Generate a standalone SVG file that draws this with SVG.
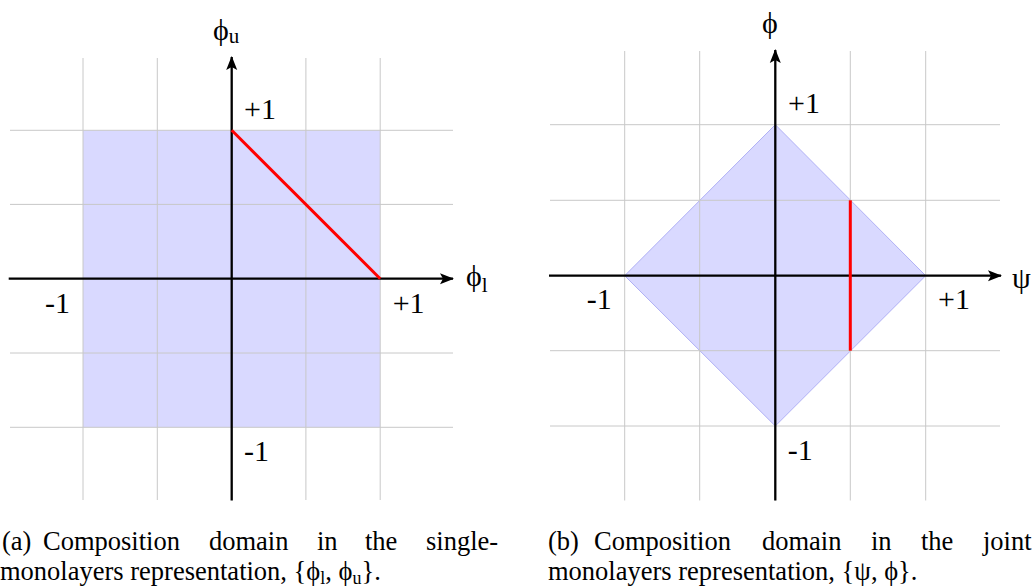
<svg xmlns="http://www.w3.org/2000/svg" width="1036" height="588" viewBox="0 0 1036 588">
<style>
.grid{stroke:#c8c8c8;stroke-width:1;fill:none}
.axis{stroke:#000;stroke-width:2.3;fill:none}
.dom{fill:#d9d9ff}
.red{stroke:#ff0000;stroke-width:3;fill:none}
.lbl{font-family:"Liberation Serif","DejaVu Serif",serif;font-size:30px;fill:#000}
.cap{font-family:"Liberation Serif","DejaVu Serif",serif;font-size:26.5px;fill:#000}
</style>
<defs>
<marker id="arr" viewBox="0 0 14 12" refX="13" refY="6" markerWidth="14" markerHeight="12" markerUnits="userSpaceOnUse" orient="auto">
<path d="M0,0.5 L14,6 L0,11.5 L3,6 Z" fill="#000"/>
</marker>
</defs>

<g id="panel-a">
<rect class="dom" x="83" y="130.3" width="297.2" height="297"/>
<g class="grid">
<path d="M83,58V500M157.3,58V500M231.7,58V500M305.9,58V500M380.2,58V500"/>
<path d="M10,130.3H453M10,204.4H453M10,278.7H453M10,353H453M10,427.3H453"/>
</g>
<g id="axes-a">
<line class="axis" x1="8.7" y1="278.7" x2="453" y2="278.7" marker-end="url(#arr)"/>
<line class="axis" x1="231.7" y1="500.5" x2="231.7" y2="57" marker-end="url(#arr)"/>
</g>
<line id="red-a" class="red" x1="231.7" y1="130.3" x2="380.2" y2="278.7"/>
<text class="lbl" x="213" y="40">ϕ<tspan font-size="21" dy="3">u</tspan></text>
<text class="lbl" x="466" y="286">ϕ<tspan font-size="21" dy="6">l</tspan></text>
<text class="lbl" x="244" y="119">+1</text>
<text class="lbl" x="45" y="313">-1</text>
<text class="lbl" x="392.7" y="313">+1</text>
<text class="lbl" x="244" y="461">-1</text>
</g>

<g id="panel-b">
<polygon class="dom" points="775.3,124.7 925.7,275.7 775.3,426 624.7,275.7" stroke="#b0b0f5" stroke-width="1"/>
<g class="grid">
<path d="M624.7,51V500.5M699.7,51V500.5M775.3,51V500.5M850.3,51V500.5M925.7,51V500.5"/>
<path d="M550,124.7H1000M550,200.3H1000M550,275.7H1000M550,350.7H1000M550,426H1000"/>
</g>
<g id="axes-b">
<line class="axis" x1="549" y1="275.7" x2="1001" y2="275.7" marker-end="url(#arr)"/>
<line class="axis" x1="775.3" y1="500.5" x2="775.3" y2="50" marker-end="url(#arr)"/>
</g>
<line id="red-b" class="red" x1="850.3" y1="200.3" x2="850.3" y2="350.7"/>
<text class="lbl" x="762" y="33">ϕ</text>
<text class="lbl" x="1012" y="288">ψ</text>
<text class="lbl" x="788" y="113">+1</text>
<text class="lbl" x="586.7" y="309">-1</text>
<text class="lbl" x="938" y="309">+1</text>
<text class="lbl" x="787.7" y="460">-1</text>
</g>

<g id="caption-a">
<text class="cap" y="550"><tspan x="2">(a)</tspan><tspan x="43">Composition</tspan><tspan x="209">domain</tspan><tspan x="317">in</tspan><tspan x="365">the</tspan><tspan x="426">single-</tspan></text>
<text class="cap" x="0" y="580">monolayers representation, {ϕ<tspan font-size="18" dy="4">l</tspan><tspan dy="-4">, ϕ</tspan><tspan font-size="18" dy="4">u</tspan><tspan dy="-4">}.</tspan></text>
</g>
<g id="caption-b">
<text class="cap" y="550"><tspan x="548">(b)</tspan><tspan x="594">Composition</tspan><tspan x="762">domain</tspan><tspan x="871">in</tspan><tspan x="921">the</tspan><tspan x="983">joint</tspan></text>
<text class="cap" x="548" y="580">monolayers representation, {ψ, ϕ}.</text>
</g>
</svg>
